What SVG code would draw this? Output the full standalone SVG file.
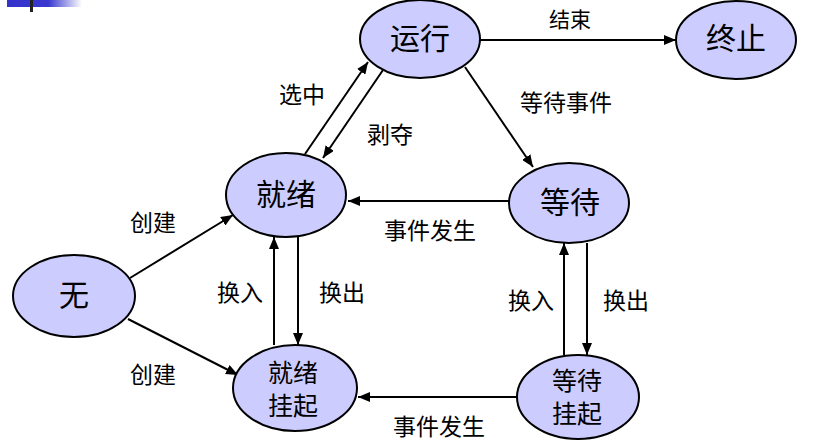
<svg xmlns="http://www.w3.org/2000/svg" width="831" height="441" viewBox="0 0 831 441">
<defs>
<linearGradient id="bar" x1="0" y1="0" x2="1" y2="0">
<stop offset="0" stop-color="#3333cc"/>
<stop offset="0.55" stop-color="#3838d0"/>
<stop offset="1" stop-color="#ffffff"/>
</linearGradient>
<marker id="arr" viewBox="0 0 12 10" refX="12" refY="5" markerWidth="12" markerHeight="10" markerUnits="userSpaceOnUse" orient="auto">
<path d="M0,0 L12,5 L0,10 Z" fill="#000"/>
</marker>
<style>
.node ellipse{fill:#ccccff;stroke:#000;stroke-width:2}
.node text{font-family:"Noto Sans CJK SC","Noto Sans CJK TC",sans-serif;font-size:30px;fill:#000;text-anchor:middle}
.node text.small{font-size:25px}
#connectors line{stroke:#000;stroke-width:2;fill:none;marker-end:url(#arr)}
.lbl{font-family:"Noto Sans CJK SC","Noto Sans CJK TC",sans-serif;font-size:23px;fill:#000;text-anchor:middle}
</style>
</defs>
<rect width="831" height="441" fill="#fff"/>
<rect x="7" y="0" width="75" height="7" fill="url(#bar)"/>
<rect x="30" y="0" width="3" height="12" fill="#222"/>

<g id="connectors">
<line x1="480" y1="40" x2="676" y2="40"/>
<line x1="305" y1="154" x2="368" y2="62"/>
<line x1="383" y1="70" x2="323" y2="158"/>
<line x1="465" y1="67" x2="533" y2="167"/>
<line x1="509" y1="201" x2="348" y2="201"/>
<line x1="130" y1="278" x2="233" y2="215"/>
<line x1="128" y1="319" x2="238" y2="375"/>
<line x1="274" y1="345" x2="274" y2="237"/>
<line x1="298" y1="237" x2="298" y2="345"/>
<line x1="564" y1="355" x2="564" y2="243"/>
<line x1="587" y1="243" x2="587" y2="355"/>
<line x1="517" y1="397" x2="358" y2="397"/>
</g>

<g id="n-running" class="node"><ellipse cx="420" cy="39" rx="60" ry="39"/><text x="420" y="49">运行</text></g>
<g id="n-end" class="node"><ellipse cx="736" cy="40" rx="60" ry="39"/><text x="736" y="49">终止</text></g>
<g id="n-ready" class="node"><ellipse cx="286" cy="195" rx="60" ry="42"/><text x="286" y="205">就绪</text></g>
<g id="n-wait" class="node"><ellipse cx="569" cy="203" rx="60" ry="40"/><text x="570" y="213">等待</text></g>
<g id="n-none" class="node"><ellipse cx="74" cy="296" rx="61" ry="41"/><text x="74" y="306">无</text></g>
<g id="n-readysusp" class="node"><ellipse cx="295" cy="388" rx="62" ry="43"/><text class="small" x="293" y="382">就绪</text><text class="small" x="293" y="415">挂起</text></g>
<g id="n-waitsusp" class="node"><ellipse cx="578" cy="397" rx="61" ry="42"/><text class="small" x="577" y="390">等待</text><text class="small" x="577" y="423">挂起</text></g>

<g id="labels">
<text class="lbl" x="570" y="27" style="font-size:21px">结束</text>
<text class="lbl" x="302" y="103">选中</text>
<text class="lbl" x="390" y="143">剥夺</text>
<text class="lbl" x="566" y="111">等待事件</text>
<text class="lbl" x="153" y="231">创建</text>
<text class="lbl" x="430" y="239">事件发生</text>
<text class="lbl" x="240" y="301">换入</text>
<text class="lbl" x="342" y="301">换出</text>
<text class="lbl" x="531" y="309">换入</text>
<text class="lbl" x="626" y="309">换出</text>
<text class="lbl" x="153" y="383">创建</text>
<text class="lbl" x="439" y="435">事件发生</text>
</g>
</svg>
